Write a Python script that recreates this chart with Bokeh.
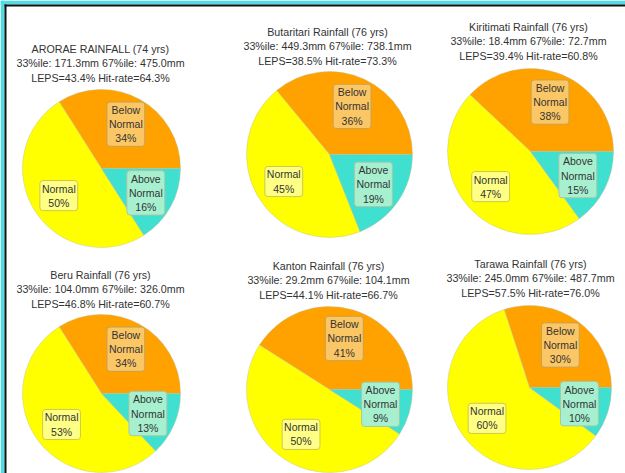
import numpy as np
from bokeh.plotting import figure
from bokeh.models import ColumnDataSource, Range1d, BoxAnnotation
from bokeh.core.properties import value
from bokeh.embed import file_html
from bokeh.resources import INLINE

# ---------------- data ----------------
names = ["ARORAE RAINFALL", "Butaritari Rainfall", "Kiritimati Rainfall",
         "Beru Rainfall", "Kanton Rainfall", "Tarawa Rainfall"]
years = [74, 76, 76, 76, 76, 76]
p33 = [171.3, 449.3, 18.4, 104.0, 29.2, 245.0]
p67 = [475.0, 738.1, 72.7, 326.0, 104.1, 487.7]
leps = [43.4, 38.5, 39.4, 46.8, 44.1, 57.5]
hit_rate = [64.3, 73.3, 60.8, 60.7, 66.7, 76.0]
categories = ["Below\nNormal", "Normal", "Above\nNormal"]
below = [34, 36, 38, 34, 41, 30]
normal = [50, 45, 47, 53, 50, 60]
above = [16, 19, 15, 13, 9, 10]

# ---------------- layout (page pixel positions) ----------------
W, H = 625, 473
cx_ref = [101, 329, 530, 101, 329, 529]
cy_ref = [168, 154, 151, 393, 389, 387]
rad = [79, 83, 83, 79, 83, 82]
tx_ref = [100, 327, 528, 100, 328, 530]
ty_ref = [63, 46, 41, 289, 280, 278]

slice_colors = ["#ffa200", "#ffff00", "#40e0d0"]
label_fill = ["#fbc665", "#ffff86", "#a6f0cf"]
label_border = ["#c9a24a", "#cfc848", "#a8c8a8"]

p = figure(width=W, height=H, output_backend="svg", toolbar_location=None,
           x_range=Range1d(0, W), y_range=Range1d(0, H), min_border=0,
           background_fill_color="white", border_fill_color="white")
p.axis.visible = False
p.grid.visible = False
p.outline_line_color = None

# frame decoration (cyan border with black inner line)
p.add_layout(BoxAnnotation(left=0, right=4, bottom=0, top=H, fill_color="#4fdde6",
                           fill_alpha=1, line_color=None))
p.add_layout(BoxAnnotation(left=0, right=W, bottom=H - 4, top=H, fill_color="#4fdde6",
                           fill_alpha=1, line_color=None))
p.add_layout(BoxAnnotation(left=4, right=6, bottom=0, top=H - 4, fill_color="#111111",
                           fill_alpha=1, line_color=None))
p.add_layout(BoxAnnotation(left=4, right=W, bottom=H - 6, top=H - 4, fill_color="#111111",
                           fill_alpha=1, line_color=None))

wx, wy, wr, ws, we, wc = [], [], [], [], [], []
lx, ly, lt, lf, lb = [], [], [], [], []
for i in range(len(names)):
    cx = cx_ref[i]
    cy = H - cy_ref[i]
    vals = [below[i], normal[i], above[i]]
    tot = float(sum(vals))
    start = 0.0
    for k, v in enumerate(vals):
        ang = 2 * np.pi * v / tot
        wx.append(cx); wy.append(cy); wr.append(rad[i])
        ws.append(start); we.append(start + ang); wc.append(slice_colors[k])
        mid = start + ang / 2
        lx.append(cx + 0.64 * rad[i] * np.cos(mid))
        ly.append(cy + 0.64 * rad[i] * np.sin(mid))
        lt.append(f"{categories[k]}\n{v}%")
        lf.append(label_fill[k]); lb.append(label_border[k])
        start += ang

wsrc = ColumnDataSource(dict(x=wx, y=wy, r=wr, s=ws, e=we, c=wc))
p.wedge(x="x", y="y", radius="r", start_angle="s", end_angle="e", direction="anticlock",
        fill_color="c", line_color="#bdbd9a", line_width=0.6, line_alpha=0.7, source=wsrc)

lsrc = ColumnDataSource(dict(x=lx, y=ly, t=lt, f=lf, b=lb))
p.text(x="x", y="y", text="t", source=lsrc, text_font=value("Liberation Sans"),
       text_font_size="10.5px", text_color="#333333", text_align="center",
       text_baseline="middle", text_line_height=1.18,
       background_fill_color="f", border_line_color="b", border_line_width=1,
       padding=2, border_radius=3)

titles = [f"{names[i]} ({years[i]} yrs)\n33%ile: {p33[i]:.1f}mm 67%ile: {p67[i]:.1f}mm\n"
          f"LEPS={leps[i]:.1f}% Hit-rate={hit_rate[i]:.1f}%" for i in range(len(names))]
tsrc = ColumnDataSource(dict(x=tx_ref, y=[H - v for v in ty_ref], t=titles))
p.text(x="x", y="y", text="t", source=tsrc, text_font=value("Liberation Sans"),
       text_font_size="10.7px", text_color="#333333", text_align="center",
       text_baseline="middle", text_line_height=1.2)

open("out.html", "w").write(file_html(p, INLINE))
